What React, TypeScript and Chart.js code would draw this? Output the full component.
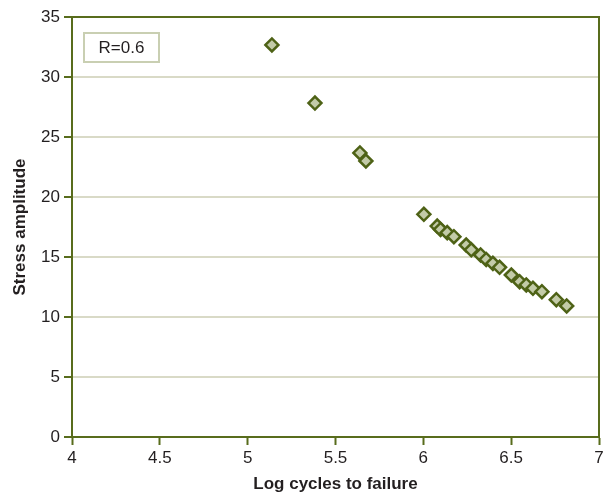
import React, { useEffect, useRef } from "react";
import { Chart, registerables } from "chart.js";

Chart.register(...registerables);

const logCycles = [
  5.138, 5.383, 5.639, 5.673, 6.003, 6.079, 6.098, 6.136, 6.174, 6.244, 6.273,
  6.326, 6.358, 6.396, 6.434, 6.501, 6.548, 6.586, 6.624, 6.675, 6.757, 6.816,
];
const stressAmplitude = [
  32.67, 27.83, 23.67, 23.0, 18.56, 17.58, 17.3, 17.03, 16.69, 16.0, 15.6,
  15.17, 14.8, 14.47, 14.14, 13.5, 12.94, 12.67, 12.39, 12.11, 11.44, 10.92,
];
const seriesLabel = "R=0.6";
const xTitle = "Log cycles to failure";
const yTitle = "Stress amplitude";

const FRAME = "#586c1c";
const GRID = "#d9dac7";
const TEXT = "#231f20";
const FONT = "'Liberation Sans', Arial, sans-serif";

export default function App() {
  const ref = useRef<HTMLCanvasElement | null>(null);

  useEffect(() => {
    document.body.style.margin = "0";
    const canvas = ref.current;
    if (!canvas) return;

    const framePlugin = {
      id: "frameBox",
      beforeDatasetsDraw(chart: any) {
        const { ctx, chartArea } = chart;
        ctx.save();
        ctx.strokeStyle = FRAME;
        ctx.lineWidth = 2;
        ctx.beginPath();
        ctx.moveTo(chartArea.left, chartArea.top);
        ctx.lineTo(chartArea.right, chartArea.top);
        ctx.lineTo(chartArea.right, chartArea.bottom);
        ctx.stroke();
        // legend box
        const bx = chartArea.left + 12;
        const by = chartArea.top + 16;
        const bw = 75;
        const bh = 29;
        ctx.strokeStyle = "#c9cfb2";
        ctx.lineWidth = 2;
        ctx.fillStyle = "#ffffff";
        ctx.fillRect(bx, by, bw, bh);
        ctx.strokeRect(bx, by, bw, bh);
        ctx.fillStyle = TEXT;
        ctx.font = `17px ${FONT}`;
        ctx.textAlign = "center";
        ctx.textBaseline = "middle";
        ctx.fillText(seriesLabel, bx + bw / 2, by + bh / 2 + 1);
        ctx.restore();
      },
    };

    const chart = new Chart(canvas, {
      type: "scatter",
      data: {
        datasets: [
          {
            label: seriesLabel,
            data: logCycles.map((x, i) => ({ x, y: stressAmplitude[i] })),
            pointStyle: "rectRot",
            pointRadius: 6.5,
            pointBorderWidth: 2.5,
            pointBackgroundColor: "#c3cba8",
            pointBorderColor: "#4e6216",
          },
        ],
      },
      options: {
        animation: false,
        responsive: false,
        devicePixelRatio: 1,
        layout: { padding: { top: 17, right: 4, left: 0, bottom: 0 } },
        plugins: {
          legend: { display: false },
          tooltip: { enabled: false },
        },
        scales: {
          x: {
            type: "linear",
            min: 4,
            max: 7,
            afterFit(scale: any) {
              scale.height = 55;
              scale.paddingLeft = 0;
              scale.paddingRight = 0;
            },
            ticks: {
              stepSize: 0.5,
              color: TEXT,
              font: { family: FONT, size: 17 },
              padding: 3,
              maxRotation: 0,
              callback: (v: any) => String(v),
            },
            grid: {
              drawOnChartArea: false,
              drawTicks: true,
              tickLength: 8,
              tickColor: FRAME,
              tickWidth: 2,
            },
            border: { color: FRAME, width: 2 },
            title: {
              display: true,
              text: xTitle,
              color: TEXT,
              font: { family: FONT, size: 17, weight: "bold" },
              padding: { top: -3, bottom: -3 },
            },
          },
          y: {
            min: 0,
            max: 35,
            afterFit(scale: any) {
              scale.width = 72;
              scale.paddingTop = 0;
              scale.paddingBottom = 0;
            },
            ticks: {
              stepSize: 5,
              color: TEXT,
              font: { family: FONT, size: 17 },
              padding: 4,
            },
            grid: {
              color: (c: any) => (c.tick && c.tick.value === 0 ? "rgba(0,0,0,0)" : GRID),
              lineWidth: 2,
              drawTicks: true,
              tickLength: 8,
              tickColor: FRAME,
              tickWidth: 2,
            },
            border: { color: FRAME, width: 2 },
            title: {
              display: true,
              text: yTitle,
              color: TEXT,
              font: { family: FONT, size: 17, weight: "bold" },
              padding: { top: 10, bottom: 0 },
            },
          },
        },
      },
      plugins: [framePlugin],
    });

    return () => chart.destroy();
  }, []);

  return (
    <div style={{ width: 603, height: 492, overflow: "hidden" }}>
      <canvas ref={ref} width={608} height={492} style={{ display: "block" }} />
    </div>
  );
}
